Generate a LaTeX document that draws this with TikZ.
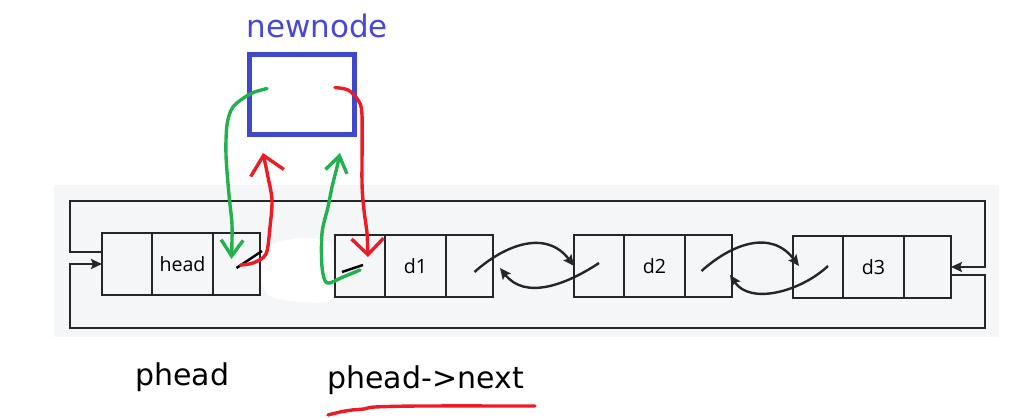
\documentclass[tikz,border=0pt]{standalone}
\usepackage{fontspec}
\usetikzlibrary{arrows.meta,positioning,calc}
\newfontfamily\labelfont{DejaVu Sans}
\newfontfamily\cellfont{Open Sans}
\definecolor{panel}{HTML}{F5F6F8}
\definecolor{nnblue}{HTML}{3F48CC}
\definecolor{nntext}{HTML}{4848D4}
\definecolor{penred}{HTML}{ED1C24}
\definecolor{pengreen}{HTML}{22B14C}
\tikzset{
  cell/.style={draw=black!85, line width=1.2pt, minimum height=31pt, inner sep=0pt, outer sep=0pt, font=\cellfont\fontsize{9.8}{12}\selectfont},
  link/.style={draw=black!85, line width=1.2pt, -{Stealth[length=5.5pt,width=5pt,inset=1pt]}},
  pen/.style={line width=1.7pt, line cap=round, line join=round},
  label/.style={anchor=base west, inner sep=0pt, font=\labelfont\fontsize{15}{18}\selectfont},
}

\begin{document}
\begin{tikzpicture}[x=0.5pt,y=-0.5pt]
  \useasboundingbox (0,0) rectangle (1019,418);
  \fill[panel] (54,185) rectangle (999,337);
  % erased part between head and d1
  \fill[white] plot[smooth cycle] coordinates {(263,250) (282,241) (310,238) (330,244) (334,270) (331,300) (300,302) (272,297) (263,285)};
  % the list
  \foreach \n/\x/\y/\t in {0/102/264/head,1/335/266/d1,2/574/266/d2,3/793/267/d3}{
    \node[cell,minimum width=25pt,anchor=west] (n\n a) at (\x,\y) {};
    \node[cell,minimum width=30.5pt,right=0pt of n\n a] (n\n b) {\t};
    \node[cell,minimum width=23.5pt,right=0pt of n\n b] (n\n c) {};
  }
  \draw[link] ([yshift=6pt]n0a.west) -| (70,201) -| (985,267) -- (n3c.east);
  \draw[link] ([yshift=-4pt]n3c.east) -| (985,328) -| (70,264) -- (n0a.west);
  \draw[link] ($(n1c.center)+(5,6)$) .. controls +(30,-27) and +(-28,-37) .. (n2a.west);
  \draw[link] ($(n2a.center)+(0,-3)$) .. controls +(-33,22) and +(25,32) .. ($(n1c.east)+(7,2)$);
  \draw[link] ($(n2c.center)+(-7,5)$) .. controls +(30,-27) and +(-28,-37) .. ($(n3a.west)+(6,-1)$);
  \draw[link] ($(n3a.center)+(10,-1)$) .. controls +(-28,26) and +(20,30) .. ($(n2c.east)+(-2,9)$);
  \draw[line width=1.2pt] ($(n0c.center)+(0,4)$) -- ($(n0c.east)+(2,-13)$);
  \draw[line width=1.2pt] ($(n1a.center)+(-18,6)$) -- ($(n1a.center)+(3,-1)$);
  % newnode
  \node[draw=nnblue, line width=2.5pt, minimum width=52.5pt, minimum height=40pt, inner sep=0pt] (nn) at (302,94.5) {};
  \node[label, text=nntext, font=\labelfont\fontsize{15.5}{18}\selectfont] (nnlabel) at (246,37) {newnode};
  \coordinate (g1s) at ($(nn.center)+(-35,-6)$);
  \coordinate (g1e) at ($(n0c.center)+(-5,-5)$);
  \coordinate (r1s) at ($(nn.center)+(33,-7)$);
  \coordinate (r1e) at ($(n1a.center)+(8,-9)$);
  \coordinate (r2s) at ($(n0c.center)+(4,1)$);
  \coordinate (r2e) at ($(nn.south)+(-39,16)$);
  \coordinate (g2s) at ($(n1a.center)+(0,4)$);
  \coordinate (g2e) at ($(nn.south)+(38,16)$);
  \draw[pen, pengreen, -{Straight Barb[length=8pt,width=11pt]}] plot[smooth] coordinates {(g1s) (250,94) (233,107) (227,125) (226,155) (229,195) (232,225) (g1e)};
  \draw[pen, penred, -{Straight Barb[length=8pt,width=16pt]}] plot[smooth] coordinates {(r1s) (348,90) (358,100) (362,115) (362,183) (364,210) (367,233) (r1e)};
  \draw[pen, penred, -{Straight Barb[length=9pt,width=17pt]}] plot[smooth] coordinates {(r2s) (253,263) (266,254) (270,227) (272,200) (268,177) (r2e)};
  \draw[pen, pengreen, -{Straight Barb[length=8pt,width=11pt]}] plot[smooth] coordinates {(g2s) (343,277) (327,283) (322,267) (322,233) (328,207) (332,187) (337,167) (g2e)};
  % labels
  \node[label] (phead) at (135,385) {phead};
  \node[label] (pnext) at (327,388) {phead->next};
  \draw[pen, penred] plot[smooth] coordinates {(328,415) (340,412) (352,410) (364,409) (375,407) (420,406) (535,406)};
\end{tikzpicture}
\end{document}
